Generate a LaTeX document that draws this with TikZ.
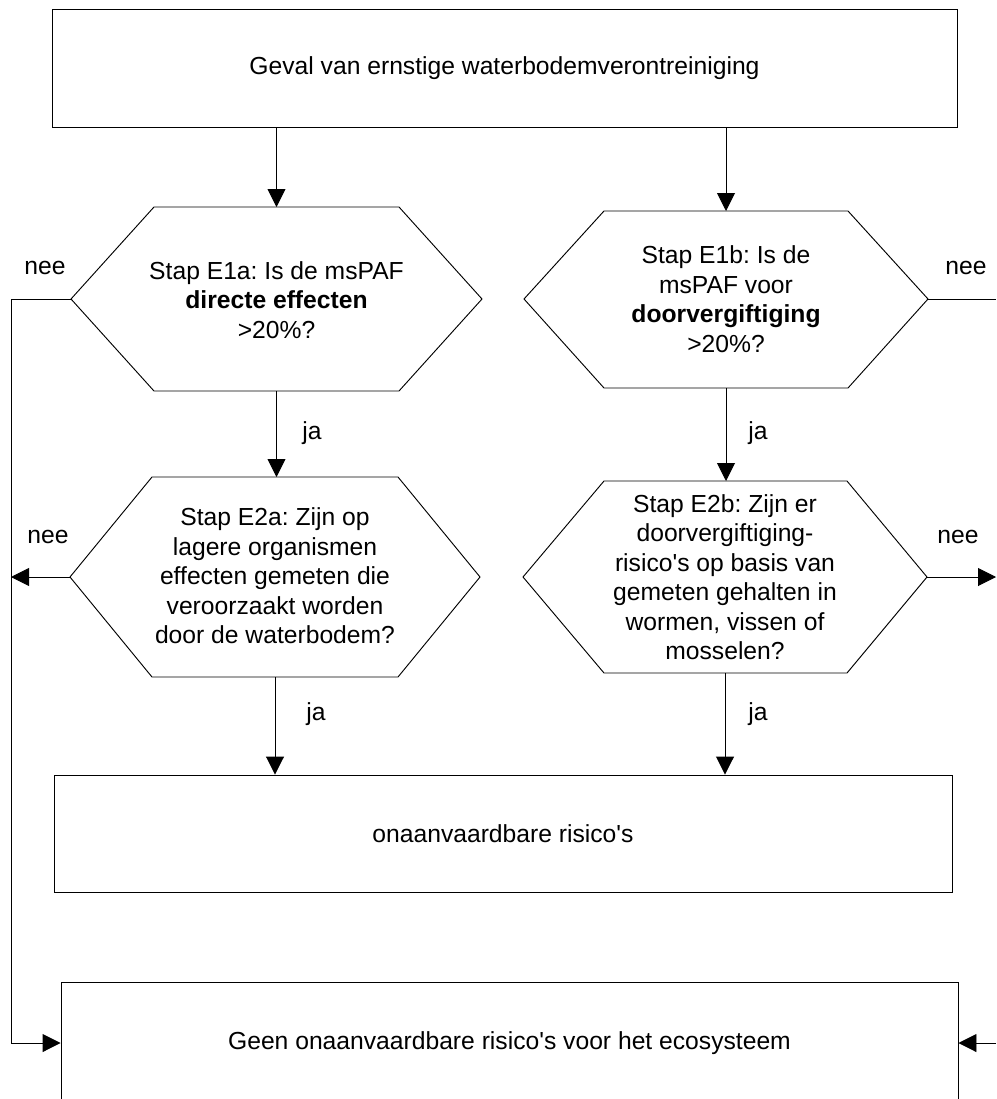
\documentclass[tikz,border=0pt]{standalone}
\usepackage{fontspec}
\setmainfont{Liberation Sans}
\usetikzlibrary{arrows.meta}
\frenchspacing
\newcommand{\q}{\textquotesingle}
\begin{document}
\begin{tikzpicture}[x=0.75pt,y=-0.75pt,
  line/.style={draw=black, line width=0.7pt},
  arr/.style={line, -{Triangle[length=13.5pt,width=13.5pt]}},
  txt/.style={align=center, font=\fontsize{18.5}{22.1}\selectfont, inner sep=0pt},
  box/.style={line, rectangle, inner sep=0pt, font=\fontsize{18.5}{22.1}\selectfont},
  lbl/.style={font=\fontsize{18.5}{22.1}\selectfont, inner sep=0pt}]
\useasboundingbox (0,0) rectangle (996,1099);
\clip (0,0) rectangle (996,1099);

% rectangular boxes
\node[box, minimum width=678.75pt, minimum height=88.5pt] (start) at (504.5,68)
  {Geval van ernstige waterbodemverontreiniging};
\node[box, minimum width=673.5pt, minimum height=87.75pt] (risk) at (503,833.5)
  {onaanvaardbare risico\q s};
\node[box, minimum width=672.75pt, minimum height=91.5pt] (norisk) at (509.5,1043)
  {Geen onaanvaardbare risico\q s voor het ecosysteem};

% hexagon E1a
\coordinate (h1w) at (71,299);   \coordinate (h1e) at (482,299);
\coordinate (h1nw) at (154,207); \coordinate (h1ne) at (399,207);
\coordinate (h1sw) at (154,391); \coordinate (h1se) at (399,391);
\coordinate (h1n) at (276.5,207); \coordinate (h1s) at (276.5,391);
\draw[line] (h1w) -- (h1nw) -- (h1ne) -- (h1e) -- (h1se) -- (h1sw) -- cycle;
\node[txt] (h1) at (276.5,300) {Stap E1a: Is de msPAF\\\textbf{directe effecten}\\>20\%?};

% hexagon E1b
\coordinate (h2w) at (524,299);  \coordinate (h2e) at (928,299);
\coordinate (h2nw) at (604,211); \coordinate (h2ne) at (848,211);
\coordinate (h2sw) at (604,388); \coordinate (h2se) at (848,388);
\coordinate (h2n) at (726,211);  \coordinate (h2s) at (726,388);
\draw[line] (h2w) -- (h2nw) -- (h2ne) -- (h2e) -- (h2se) -- (h2sw) -- cycle;
\node[txt] (h2) at (726,299) {Stap E1b: Is de\\msPAF voor\\\textbf{doorvergiftiging}\\>20\%?};

% hexagon E2a
\coordinate (h3w) at (70,577);   \coordinate (h3e) at (480,577);
\coordinate (h3nw) at (152,477); \coordinate (h3ne) at (398,477);
\coordinate (h3sw) at (152,677); \coordinate (h3se) at (398,677);
\coordinate (h3n) at (276.5,477); \coordinate (h3s) at (275,677);
\draw[line] (h3w) -- (h3nw) -- (h3ne) -- (h3e) -- (h3se) -- (h3sw) -- cycle;
\node[txt] (h3) at (275,576) {Stap E2a: Zijn op\\lagere organismen\\effecten gemeten die\\veroorzaakt worden\\door de waterbodem?};

% hexagon E2b
\coordinate (h4w) at (523,577);  \coordinate (h4e) at (927,577);
\coordinate (h4nw) at (604,481); \coordinate (h4ne) at (847,481);
\coordinate (h4sw) at (604,673); \coordinate (h4se) at (847,673);
\coordinate (h4n) at (726,481);  \coordinate (h4s) at (725,673);
\draw[line] (h4w) -- (h4nw) -- (h4ne) -- (h4e) -- (h4se) -- (h4sw) -- cycle;
\node[txt] (h4) at (725,577) {Stap E2b: Zijn er\\doorvergiftiging-\\risico\q s op basis van\\gemeten gehalten in\\wormen, vissen of\\mosselen?};

% side routing points
\coordinate (lup) at (11,299);
\coordinate (lmid) at (11,577);
\coordinate (ldown) at (11,1043);
\coordinate (rup) at (996,299);
\coordinate (rmid) at (996,577);
\coordinate (rdown) at (996,1043);

% vertical connectors
\draw[arr] (start.south -| h1n) -- (h1n);
\draw[arr] (start.south -| h2n) -- (h2n);
\draw[arr] (h1s) -- (h3n);
\draw[arr] (h2s) -- (h4n);
\draw[arr] (h3s) -- (h3s |- risk.north);
\draw[arr] (h4s) -- (h4s |- risk.north);

% "nee" connectors
\draw[arr] (h1w) -- (lup) -- (ldown) -- (norisk.west |- ldown);
\draw[arr] (h3w) -- (lmid);
\draw[line] (h2e) -- (rup);
\draw[arr] (h4e) -- (rmid);
\draw[arr] (rdown) -- (norisk.east |- rdown);

% branch labels
\node[lbl] (ja1) at (312,433) {ja};
\node[lbl] (ja2) at (758,433) {ja};
\node[lbl] (ja3) at (316,714) {ja};
\node[lbl] (ja4) at (758,714) {ja};
\node[lbl] (nee1) at (45,268) {nee};
\node[lbl] (nee2) at (966,268) {nee};
\node[lbl] (nee3) at (48,537) {nee};
\node[lbl] (nee4) at (958,537) {nee};
\end{tikzpicture}
\end{document}
